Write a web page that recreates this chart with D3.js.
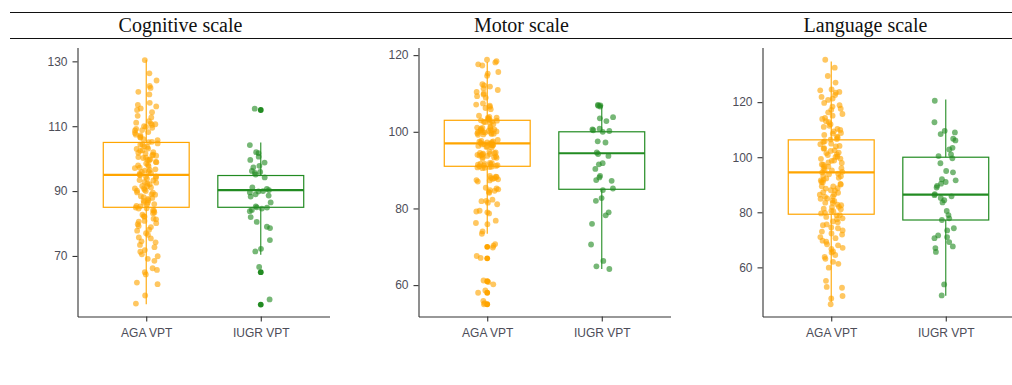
<!DOCTYPE html>
<html>
<head>
<meta charset="utf-8">
<script src="https://cdn.jsdelivr.net/npm/d3@7"></script>
<style>
  body { margin: 0; background: #fff; }
  svg { display: block; }
</style>
</head>
<body>
<div id="chart"></div>
<script>
// ---- data ----
const groups = ["AGA VPT", "IUGR VPT"];
const titles = ["Cognitive scale", "Motor scale", "Language scale"];
const yTicks = [[70, 90, 110, 130], [60, 80, 100, 120], [60, 80, 100, 120]];

// jittered scores as plotted
const cogAGA = [130.4, 126.3, 124.1, 122.4, 121.8, 120.6, 119.8, 117.2, 116.6, 116.1, 115.5, 115.0, 114.3, 113.2, 112.7,
  111.6, 111.1, 110.9, 110.6, 110.4, 110.0, 109.8, 109.5, 109.2, 108.8, 108.7, 108.2, 107.9, 107.4, 107.2, 106.7, 106.5, 106.0,
  105.7, 105.2, 105.1, 104.7, 104.4, 104.3, 103.8, 103.6, 103.1, 103.0, 102.6, 102.4, 102.0,
  101.8, 101.6, 101.2, 101.0, 100.9, 100.5, 100.3, 100.2, 99.8, 99.6, 99.5, 99.0, 98.9, 98.5, 98.1, 97.9, 97.7,
  97.2, 97.1, 96.7, 96.5, 96.3, 96.0, 95.9, 95.5, 95.4, 95.0, 94.9, 94.5, 94.4, 94.1, 93.8, 93.4, 93.3, 92.8, 92.6,
  92.3, 92.1, 91.6, 91.5, 91.1, 90.9, 90.8, 90.4, 90.1, 90.0, 89.6, 89.5, 89.0, 88.9, 88.4, 88.1, 87.9,
  87.6, 87.2, 87.0, 86.5, 86.4, 86.0, 85.9, 85.4, 85.3, 84.9, 84.7, 84.6, 84.1, 83.9, 83.4, 83.2, 82.7,
  82.3, 82.1, 81.5, 81.3, 80.8, 80.6, 80.1, 79.8, 79.2, 78.9, 78.1,
  77.8, 77.0, 76.5, 75.7, 75.4, 74.5, 74.2, 73.4,
  72.7, 71.8, 71.3, 70.5, 69.9, 69.1, 68.5,
  66.2, 65.7, 65.0, 64.3, 61.8, 61.3, 57.8, 55.3];
const cogIUGR = [115.4, 104.2, 102.0, 101.7, 100.6, 99.6, 98.8, 97.8, 97.3, 96.2, 95.9, 95.6, 95.1, 94.2,
  91.1, 90.7, 90.3, 90.0, 89.9, 89.6, 89.0, 88.6, 88.3, 86.5, 85.3, 85.0, 84.9, 84.6, 84.2, 83.8,
  82.0, 80.5, 79.0, 78.6, 74.9, 72.2, 71.4, 66.6, 56.6];
const motAGA = [118.8, 118.4, 118.1, 117.6, 117.3, 115.6, 115.2, 114.6,
  112.4, 112.1, 111.8, 111.3, 110.9, 110.4, 110.0, 109.7, 109.3, 108.9,
  107.4, 107.1, 106.8, 106.5, 106.2, 105.9,
  104.2, 103.9, 103.7, 103.5, 103.6, 103.3, 103.1, 103.0, 102.9, 102.7, 102.6, 102.5, 102.3, 102.0,
  101.3, 101.1, 101.0, 100.9, 100.8, 100.6, 100.5, 100.4, 100.3, 100.2, 100.1, 100.0, 99.9, 99.8, 99.7, 99.6, 99.5, 99.4, 99.3, 99.2,
  97.9, 97.6, 97.5, 97.4, 97.3, 97.2, 97.1, 97.0, 96.9, 96.8, 96.7, 96.6, 96.5, 96.4, 96.3, 96.2, 96.0, 95.9,
  94.8, 94.6, 94.5, 94.4, 94.3, 94.2, 94.1, 94.0, 93.9, 93.8, 93.7, 93.6, 93.4, 93.3, 93.2, 93.0,
  91.9, 91.8, 91.7, 91.6, 91.5, 91.4, 91.3, 91.2, 91.1, 91.0, 90.9, 90.8, 90.7, 90.6, 90.5,
  88.5, 88.3, 88.2, 88.0, 87.9, 87.7, 87.6, 87.4, 87.3, 87.0,
  85.4, 85.2, 85.0, 84.8, 84.6, 84.3, 84.1,
  82.3, 82.0, 81.9, 81.5, 81.1,
  79.4, 79.2, 79.0, 78.7,
  76.8, 76.2, 75.9,
  74.0, 73.4,
  70.7, 70.3, 69.8, 67.6, 67.1,
  61.2, 60.8, 60.2, 58.6, 58.0, 55.9, 55.3, 55.0];
const motIUGR = [107.0, 106.8, 106.6, 106.9, 103.8, 103.5, 102.8, 100.8, 100.6, 100.4, 100.2, 100.0,
  97.5, 97.2, 94.6, 94.2, 93.7, 91.8, 91.5, 90.3, 88.5, 88.1, 87.4, 87.2, 85.2, 84.8,
  82.7, 82.0, 79.0, 78.2, 76.0, 70.6, 66.3, 64.9, 64.2];
const lanAGA = [135.4, 132.5, 129.5, 127.1, 124.6, 124.3, 123.7, 123.4, 122.6, 121.9,
  121.3, 120.8, 119.7, 118.9, 118.4, 117.6, 117.2, 116.3, 115.7, 115.1, 114.3, 113.9, 113.1, 112.7, 112.0, 111.4, 111.0, 110.3, 109.9,
  109.4, 108.8, 108.6, 108.1, 107.5, 107.2, 106.6, 106.4, 105.8, 105.5, 104.9, 104.7, 104.1, 103.9, 103.3, 103.1, 102.5, 102.3, 101.7, 101.5,
  101.0, 100.8, 100.2, 100.1, 99.5, 99.4, 98.8, 98.7, 98.1, 97.9, 97.4, 97.3, 96.7, 96.6, 96.0, 95.9, 95.3, 95.2, 94.7, 94.5, 94.0,
  93.8, 93.2, 93.1, 92.5, 92.3, 91.8, 91.6, 91.0, 90.9, 90.3, 90.1, 89.5, 89.4, 88.8, 88.6, 88.0, 87.9, 87.3, 87.1, 86.5, 86.4, 85.8, 85.6, 85.0, 84.9, 84.3,
  84.1, 83.5, 83.4, 82.8, 82.6, 82.0, 81.9, 81.3, 81.1, 80.5, 80.4, 79.8, 79.6, 79.0, 78.9, 78.3,
  77.8, 77.5, 76.7, 76.4, 75.6, 75.3, 74.5, 74.2, 73.4, 73.0, 72.3, 71.9,
  71.0, 70.6, 69.7, 69.3, 68.4, 68.0, 67.1, 66.7, 65.8, 65.4,
  64.5, 63.8, 63.1, 62.0, 61.3,
  59.9, 55.1, 52.9, 52.6, 49.6, 48.7, 46.6];
const lanIUGR = [120.5, 112.7, 109.6, 109.0, 108.4, 106.7, 106.1, 103.4, 102.8, 101.0, 100.4, 99.6, 97.8,
  95.0, 94.5, 92.0, 91.6, 91.0, 90.4, 89.6, 89.0, 86.6, 86.2, 85.8, 85.2, 84.4, 83.6,
  80.5, 79.0, 77.8, 77.2, 74.2, 73.4, 71.6, 71.0, 70.6, 69.2, 67.6, 67.0, 65.6, 53.8, 49.8];

// box stats per group: [lower whisker, q1, median, q3, upper whisker]
const cogBox = [[55.1, 85, 95, 105, 130.5], [70.4, 85, 90.3, 94.8, 105]];
const motBox = [[73.4, 91, 97, 103, 118.2], [64.2, 85, 94.4, 100, 107]];
const lanBox = [[47.5, 79.3, 94.5, 106.3, 134.8], [49.7, 77.2, 86.4, 100, 121]];
// outliers drawn by the boxplot layer
const cogOut = [[], [115, 65, 55]];
const motOut = [[70, 67, 61, 58, 55], []];
const lanOut = [[], []];

const panels = [
  { title: titles[0], ticks: yTicks[0], pts: [cogAGA, cogIUGR], box: cogBox, out: cogOut },
  { title: titles[1], ticks: yTicks[1], pts: [motAGA, motIUGR], box: motBox, out: motOut },
  { title: titles[2], ticks: yTicks[2], pts: [lanAGA, lanIUGR], box: lanBox, out: lanOut }
];

// ---- layout ----
const width = 1012, height = 385;
const colors = ["#FFA500", "#228B22"];
const panelLeft = [77.5, 418.5, 762.5];
const plotTop = 47.5, plotH = 269, plotW = 252;
const textCol = "#4d4d58";
const ptR = 2.9;

// deterministic scatter for the horizontal jitter (position only)
function spread(j, k, i) {
  const s = Math.sin(j * 12.9898 + k * 78.233 + i * 37.719) * 43758.5453;
  return s - Math.floor(s) - 0.5;
}

const svg = d3.select("#chart").append("svg")
  .attr("width", width)
  .attr("height", height)
  .style("background", "#fff");

// header rules and titles
[12.5, 38.5].forEach(yy => {
  svg.append("line")
    .attr("x1", 10).attr("x2", width)
    .attr("y1", yy).attr("y2", yy)
    .attr("stroke", "#111").attr("stroke-width", 1.2);
});

panels.forEach((p, i) => {
  svg.append("text")
    .attr("x", panelLeft[i] + 103)
    .attr("y", 32)
    .attr("text-anchor", "middle")
    .style("font-family", "'Liberation Serif', 'Times New Roman', serif")
    .style("font-size", "20px")
    .style("fill", "#111")
    .text(p.title);

  const g = svg.append("g")
    .attr("transform", "translate(" + panelLeft[i] + "," + plotTop + ")");

  const x = d3.scalePoint().domain(groups).range([0, plotW]).padding(0.6);

  const all = p.pts.flat().concat(p.box.flat());
  const ext = d3.extent(all);
  const pad = (ext[1] - ext[0]) * 0.05;
  const y = d3.scaleLinear().domain([ext[0] - pad, ext[1] + pad]).range([plotH, 0]);

  const bw = x.step() * 0.75;

  // boxes
  groups.forEach((grp, k) => {
    const b = p.box[k];
    const cx = x(grp);
    const bg = g.append("g")
      .attr("stroke", colors[k])
      .attr("fill", "none");
    bg.append("line").attr("x1", cx).attr("x2", cx)
      .attr("y1", y(b[3])).attr("y2", y(b[4])).attr("stroke-width", 1.1);
    bg.append("line").attr("x1", cx).attr("x2", cx)
      .attr("y1", y(b[1])).attr("y2", y(b[0])).attr("stroke-width", 1.1);
    bg.append("rect")
      .attr("x", cx - bw / 2).attr("width", bw)
      .attr("y", y(b[3])).attr("height", y(b[1]) - y(b[3]))
      .attr("stroke-width", 1.2);
    bg.append("line")
      .attr("x1", cx - bw / 2).attr("x2", cx + bw / 2)
      .attr("y1", y(b[2])).attr("y2", y(b[2]))
      .attr("stroke-width", 2.2);

    g.selectAll(".out" + k)
      .data(p.out[k])
      .enter()
      .append("circle")
      .attr("cx", cx)
      .attr("cy", d => y(d))
      .attr("r", ptR)
      .attr("fill", colors[k]);
  });

  // jittered points, +-0.1 of a category step
  groups.forEach((grp, k) => {
    g.selectAll(".pt" + k)
      .data(p.pts[k])
      .enter()
      .append("circle")
      .attr("cx", (d, j) => x(grp) + spread(j + 1, k + 1, i + 1) * 0.2 * x.step())
      .attr("cy", d => y(d))
      .attr("r", ptR)
      .attr("fill", colors[k])
      .attr("fill-opacity", 0.62);
  });

  // axes
  const ya = g.append("g")
    .call(d3.axisLeft(y).tickValues(p.ticks).tickSize(5).tickSizeOuter(0).tickPadding(5));
  const xa = g.append("g")
    .attr("transform", "translate(0," + plotH + ")")
    .call(d3.axisBottom(x).tickSize(5).tickSizeOuter(0).tickPadding(7));

  [ya, xa].forEach(a => {
    a.select(".domain").attr("stroke", "#333").attr("stroke-width", 1.1);
    a.selectAll(".tick line").attr("stroke", "#333").attr("stroke-width", 1.1);
    a.selectAll(".tick text")
      .style("font-family", "'Liberation Sans', Arial, sans-serif")
      .style("font-size", "12px")
      .style("fill", textCol);
  });
});
</script>
</body>
</html>
